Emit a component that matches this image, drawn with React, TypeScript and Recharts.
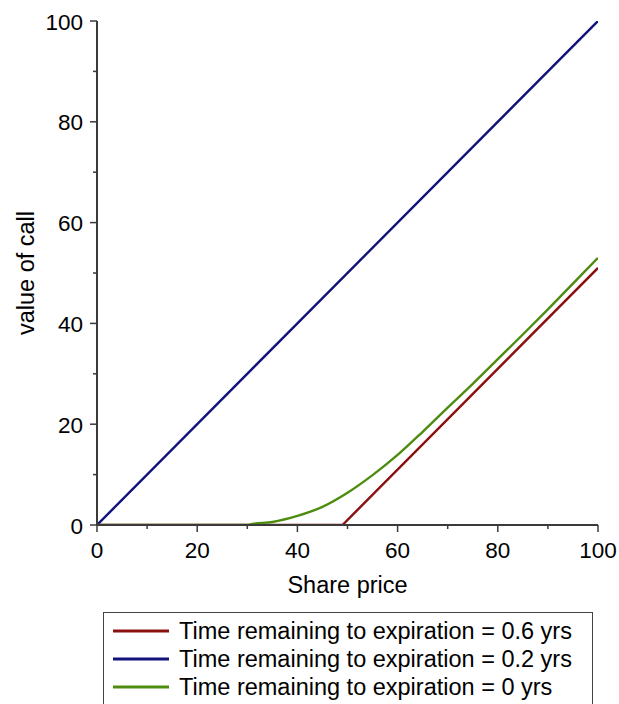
import { LineChart, Line, XAxis, YAxis, Legend } from 'recharts';

const FONT = '"Liberation Sans", Arial, Helvetica, sans-serif';

const axisTicks = [0, 10, 20, 30, 40, 50, 60, 70, 80, 90, 100];

// series: x (share price) and y (value of call)
const redName = 'Time remaining to expiration = 0.6 yrs';
const redX = [0, 49, 100];
const redY = [0, 0, 51];

const blueName = 'Time remaining to expiration = 0.2 yrs';
const blueX = [0, 100];
const blueY = [0, 100];

const greenName = 'Time remaining to expiration = 0 yrs';
const greenX = [0, 30, 31, 35, 40, 45, 50, 55, 60, 65, 70, 75, 80, 85, 90, 95, 100];
const greenY = [0, 0, 0.2, 0.6, 1.8, 3.6, 6.4, 9.9, 13.9, 18.5, 23.3, 28.0, 32.9, 37.8, 42.8, 47.9, 53.0];

const legendOrder = [redName, blueName, greenName];

const toRows = (xs: number[], ys: number[]) => xs.map((x, i) => ({ x, y: ys[i] }));

const AXIS = '#3a3a3a';

const XTick = (props: any) => {
  const { x, y, payload } = props;
  const major = payload.value % 20 === 0;
  return (
    <g>
      <line x1={x} x2={x} y1={y} y2={y + (major ? 7 : 4)} stroke={AXIS} strokeWidth={1.5} />
      {major && (
        <text x={x} y={y + 33} textAnchor="middle" fontSize={22.5} fontFamily={FONT} fill="#000">
          {payload.value}
        </text>
      )}
    </g>
  );
};

const YTick = (props: any) => {
  const { x, y, payload } = props;
  const major = payload.value % 20 === 0;
  return (
    <g>
      <line x1={x - (major ? 7 : 4)} x2={x} y1={y} y2={y} stroke={AXIS} strokeWidth={1.5} />
      {major && (
        <text x={x - 14} y={y + 8.5} textAnchor="end" fontSize={22.5} fontFamily={FONT} fill="#000">
          {payload.value}
        </text>
      )}
    </g>
  );
};

const YLabel = (props: any) => {
  const { viewBox } = props;
  const cx = 26;
  const cy = viewBox.y + viewBox.height / 2;
  return (
    <text
      x={cx}
      y={cy}
      transform={`rotate(-90, ${cx}, ${cy})`}
      textAnchor="middle"
      dominantBaseline="central"
      fontSize={23.5}
      fontFamily={FONT}
      fill="#000"
    >
      value of call
    </text>
  );
};

const XLabel = (props: any) => {
  const { viewBox } = props;
  return (
    <text
      x={viewBox.x + viewBox.width / 2}
      y={viewBox.y + 68}
      textAnchor="middle"
      fontSize={23.5}
      fontFamily={FONT}
      fill="#000"
    >
      Share price
    </text>
  );
};

const LegendBox = (props: any) => {
  const items = [...(props.payload || [])].sort(
    (a: any, b: any) => legendOrder.indexOf(a.value) - legendOrder.indexOf(b.value)
  );
  return (
    <div
      style={{
        border: '1.5px solid #444',
        background: '#fff',
        height: 100,
        boxSizing: 'border-box',
        paddingTop: 4,
        fontFamily: FONT,
      }}
    >
      {items.map((entry: any) => (
        <div key={entry.value} style={{ display: 'flex', alignItems: 'center', height: 28 }}>
          <svg width={56} height={10} style={{ marginLeft: 9, marginRight: 10 }}>
            <line x1={0} x2={56} y1={5} y2={5} stroke={entry.color} strokeWidth={3} />
          </svg>
          <span style={{ fontSize: 23.5, color: '#000', whiteSpace: 'nowrap' }}>{entry.value}</span>
        </div>
      ))}
    </div>
  );
};

export default function App() {
  return (
    <div style={{ position: 'absolute', left: 0, top: 0, background: '#fff' }}>
      <LineChart width={619} height={704} margin={{ top: 21, right: 21, left: 0, bottom: 0 }}>
        <XAxis
          type="number"
          dataKey="x"
          domain={[0, 100]}
          ticks={axisTicks}
          interval={0}
          height={179}
          tickSize={0}
          tickMargin={0}
          tick={<XTick />}
          axisLine={{ stroke: AXIS, strokeWidth: 2 }}
          label={<XLabel />}
          allowDataOverflow
        />
        <YAxis
          type="number"
          dataKey="y"
          domain={[0, 100]}
          ticks={axisTicks}
          interval={0}
          width={97}
          tickSize={0}
          tickMargin={0}
          tick={<YTick />}
          axisLine={{ stroke: AXIS, strokeWidth: 2 }}
          label={<YLabel />}
          allowDataOverflow
        />
        <Legend
          layout="vertical"
          align="center"
          verticalAlign="middle"
          itemSorter={null}
          content={<LegendBox />}
          wrapperStyle={{ left: 103, top: 612, width: 490 }}
        />
        <Line
          data={toRows(redX, redY)}
          dataKey="y"
          name={redName}
          type="linear"
          stroke="#8b1010"
          strokeWidth={2.4}
          dot={false}
          isAnimationActive={false}
        />
        <Line
          data={toRows(blueX, blueY)}
          dataKey="y"
          name={blueName}
          type="linear"
          stroke="#12127c"
          strokeWidth={2.4}
          dot={false}
          isAnimationActive={false}
        />
        <Line
          data={toRows(greenX, greenY)}
          dataKey="y"
          name={greenName}
          type="monotone"
          stroke="#4e8c10"
          strokeWidth={2.4}
          dot={false}
          isAnimationActive={false}
        />
      </LineChart>
    </div>
  );
}
